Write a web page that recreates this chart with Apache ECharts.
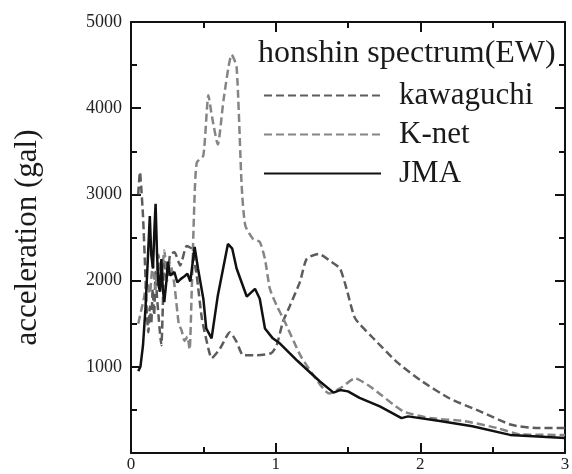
<!DOCTYPE html>
<html>
<head>
<meta charset="utf-8">
<script src="https://cdn.jsdelivr.net/npm/echarts@6/dist/echarts.min.js"></script>
<style>
  html, body { margin: 0; padding: 0; background: #fff; }
  #chart { width: 572px; height: 474px; }
</style>
</head>
<body>
<div id="chart"></div>
<script>
// period (s) / acceleration (gal)
const kawaguchiT = [0.05, 0.062, 0.07, 0.083, 0.097, 0.11, 0.12, 0.13, 0.14, 0.15, 0.16, 0.17, 0.18, 0.19, 0.2, 0.21, 0.22, 0.23, 0.25, 0.27, 0.3, 0.34, 0.385, 0.42, 0.454, 0.49, 0.535, 0.557, 0.615, 0.684, 0.73, 0.776, 0.87, 0.97, 1.007, 1.05, 1.1, 1.168, 1.214, 1.295, 1.387, 1.445, 1.49, 1.55, 1.67, 1.835, 2.0, 2.2, 2.41, 2.63, 2.8, 3.0]
const kawaguchiA = [3000, 3260, 3100, 2750, 2175, 1600, 1400, 1700, 1500, 1900, 1600, 2100, 1800, 1600, 1400, 1250, 1700, 2250, 2000, 2300, 2330, 2175, 2400, 2370, 2060, 1560, 1210, 1100, 1210, 1400, 1290, 1135, 1135, 1160, 1250, 1520, 1715, 1985, 2250, 2310, 2215, 2140, 1905, 1560, 1340, 1060, 845, 635, 485, 327, 290, 290]

const knetT = [0.05, 0.07, 0.09, 0.11, 0.13, 0.15, 0.17, 0.19, 0.21, 0.23, 0.25, 0.27, 0.3, 0.33, 0.35, 0.37, 0.39, 0.405, 0.42, 0.44, 0.455, 0.5, 0.535, 0.56, 0.6, 0.64, 0.696, 0.73, 0.765, 0.79, 0.845, 0.89, 0.926, 0.96, 1.007, 1.064, 1.17, 1.26, 1.37, 1.445, 1.55, 1.67, 1.88, 2.07, 2.3, 2.53, 2.69, 3.0]
const knetA = [1500, 1650, 1800, 2000, 1850, 2200, 1900, 2300, 2000, 2350, 2100, 2200, 1950, 1500, 1420, 1300, 1350, 1200, 1900, 3000, 3370, 3450, 4150, 3900, 3580, 4100, 4620, 4480, 3100, 2640, 2480, 2450, 2250, 1905, 1710, 1520, 1135, 905, 690, 750, 865, 750, 485, 405, 370, 290, 215, 210]

const jmaT = [0.05, 0.065, 0.083, 0.1, 0.115, 0.13, 0.14, 0.152, 0.162, 0.17, 0.18, 0.19, 0.2, 0.21, 0.22, 0.23, 0.245, 0.255, 0.27, 0.3, 0.32, 0.345, 0.37, 0.39, 0.41, 0.44, 0.463, 0.5, 0.52, 0.557, 0.6, 0.67, 0.7, 0.73, 0.8, 0.857, 0.89, 0.926, 0.98, 1.03, 1.15, 1.306, 1.4, 1.445, 1.5, 1.58, 1.72, 1.87, 1.915, 2.135, 2.36, 2.62, 3.0]
const jmaA = [950, 1000, 1250, 1675, 2200, 2750, 2300, 2140, 2600, 2890, 2300, 1950, 1870, 2250, 1900, 1750, 2000, 2220, 2060, 2100, 1980, 2020, 2050, 2080, 1990, 2390, 2140, 1790, 1445, 1330, 1825, 2425, 2370, 2140, 1815, 1905, 1790, 1445, 1330, 1270, 1070, 830, 700, 730, 715, 640, 540, 405, 425, 370, 310, 210, 175]

const xMin = 0, xMax = 3, xStep = 1
const yMin = 0, yMax = 5000, yStep = 1000

const font = "'Liberation Serif', 'DejaVu Serif', serif"
const zip = (t, a) => t.map((v, i) => [v, a[i]])

const chart = echarts.init(document.getElementById('chart'))

// each axis gets fresh style objects
function frame(extra) {
  return Object.assign({
    type: 'value',
    axisLine: { show: true, onZero: false, lineStyle: { color: '#111', width: 2 } },
    axisTick: { show: true, inside: true, length: 10, lineStyle: { color: '#111', width: 2 } },
    minorTick: { show: true, splitNumber: 2, length: 6, lineStyle: { color: '#111', width: 2 } },
    splitLine: { show: false },
    axisLabel: { show: false }
  }, extra)
}

chart.setOption({
  animation: false,
  title: {
    text: 'honshin spectrum(EW)',
    left: 258, top: 38, padding: 0,
    textStyle: { fontFamily: font, fontSize: 32, fontWeight: 'normal', color: '#1a1a1a' }
  },
  legend: {
    orient: 'vertical',
    left: 258, top: 75,
    itemWidth: 117, itemHeight: 14, itemGap: 8,
    itemStyle: { opacity: 0 },
    textStyle: { fontFamily: font, fontSize: 31, color: '#1a1a1a', lineHeight: 30, padding: [0, 0, 0, 13] },
    data: ['kawaguchi', 'K-net', 'JMA']
  },
  // keep labels inside the canvas so the grid is not re-fitted
  grid: { left: 131, right: 7, top: 22, bottom: 21, outerBoundsMode: 'none' },
  xAxis: [
    frame({
      min: xMin, max: xMax, interval: xStep,
      axisLabel: { show: true, fontFamily: font, fontSize: 17, color: '#222', margin: 3 }
    }),
    frame({ min: xMin, max: xMax, interval: xStep, position: 'top' })
  ],
  yAxis: [
    frame({
      min: yMin, max: yMax, interval: yStep,
      name: 'acceleration (gal)',
      nameLocation: 'middle',
      nameRotate: 90,
      nameGap: 88,
      nameTextStyle: { fontFamily: font, fontSize: 31, color: '#1a1a1a' },
      axisLabel: {
        show: true, showMinLabel: false, fontFamily: font, fontSize: 18, color: '#222', margin: 9,
        formatter: v => String(v)
      }
    }),
    frame({ min: yMin, max: yMax, interval: yStep, position: 'right' })
  ],
  series: [
    {
      name: 'kawaguchi', type: 'line', symbol: 'none', smooth: 0.2,
      data: zip(kawaguchiT, kawaguchiA),
      lineStyle: { color: '#5c5c5c', width: 2.5, type: [8, 4] },
      itemStyle: { color: '#5c5c5c' }
    },
    {
      name: 'K-net', type: 'line', symbol: 'none', smooth: 0.2,
      data: zip(knetT, knetA),
      lineStyle: { color: '#858585', width: 2.5, type: [8, 4] },
      itemStyle: { color: '#858585' }
    },
    {
      name: 'JMA', type: 'line', symbol: 'none',
      data: zip(jmaT, jmaA),
      lineStyle: { color: '#111', width: 2.5 },
      itemStyle: { color: '#111' }
    }
  ]
})
</script>
</body>
</html>
